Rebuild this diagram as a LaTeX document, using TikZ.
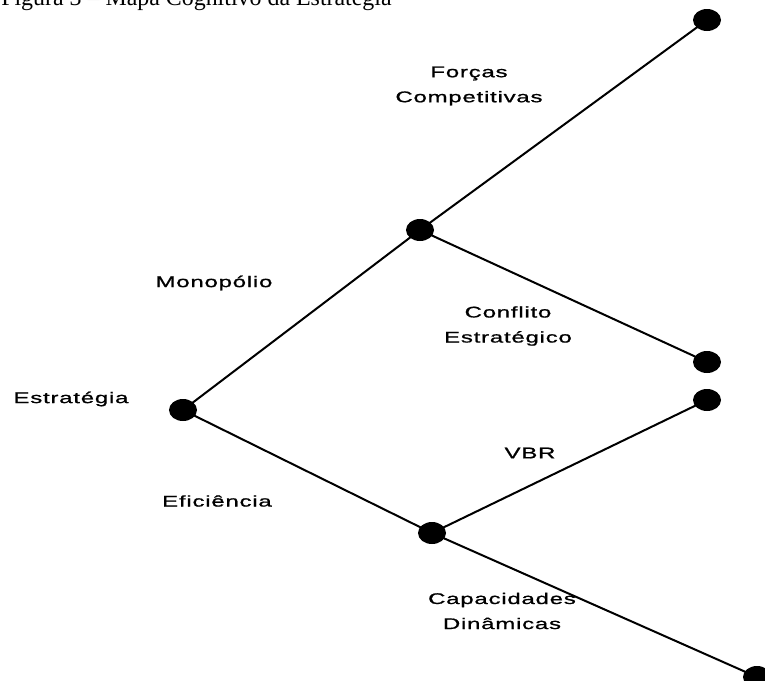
\documentclass[tikz,border=0pt]{standalone}
\usepackage{fontspec}
\usetikzlibrary{shapes.geometric}
\newfontfamily\mapfont[FakeStretch=1.55,LetterSpace=5,FakeBold=1]{Liberation Sans}
\newfontfamily\titlefont{Liberation Serif}
\tikzset{
	dot/.style={ellipse, fill=black, draw=none, minimum width=0.7cm, minimum height=0.55cm, inner sep=0pt},
	lbl/.style={align=center, inner sep=0pt, font=\mapfont\fontsize{11}{17.8}\selectfont},
	branch/.style={line width=0.05cm, color=black}
}

\begin{document}
\begin{tikzpicture}[x=0.025cm, y=-0.025cm]
			%%%%% START %%%%%
			\useasboundingbox (0, 0) rectangle (765, 680);
			
			\node[anchor=base west, inner sep=0pt, font=\titlefont\fontsize{17}{20}\selectfont] (title) at (1, 5.5) {Figura 3 – Mapa Cognitivo da Estratégia};
			
			\node[dot] (root) at (183, 410) {};
			\node[dot] (upper) at (420, 230) {};
			\node[dot] (lower) at (432, 533) {};
			\node[dot] (forcas) at (707, 20) {};
			\node[dot] (conflito) at (707, 362) {};
			\node[dot] (vbr) at (707, 400) {};
			\node[dot] (capac) at (757, 677) {};
			
			\draw[branch] (root.center) -- (upper.center);
			\draw[branch] (root.center) -- (lower.center);
			\draw[branch] (upper.center) -- (forcas.center);
			\draw[branch] (upper.center) -- (conflito.center);
			\draw[branch] (lower.center) -- (vbr.center);
			\draw[branch] (lower.center) -- (capac.center);
			
			\node[lbl] (lforcas) at (469, 86) {Forças\\Competitivas};
			\node[lbl] (lmonop) at (214, 283) {Monopólio};
			\node[lbl] (lestrat) at (71, 399) {Estratégia};
			\node[lbl] (lconfl) at (508, 326) {Conflito\\Estratégico};
			\node[lbl] (lvbr) at (530, 453) {VBR};
			\node[lbl] (lefic) at (217, 501) {Eficiência};
			\node[lbl] (lcapac) at (502, 611) {Capacidades\\Dinâmicas};
			
			%%%%% END %%%%%
		\end{tikzpicture}
\end{document}
